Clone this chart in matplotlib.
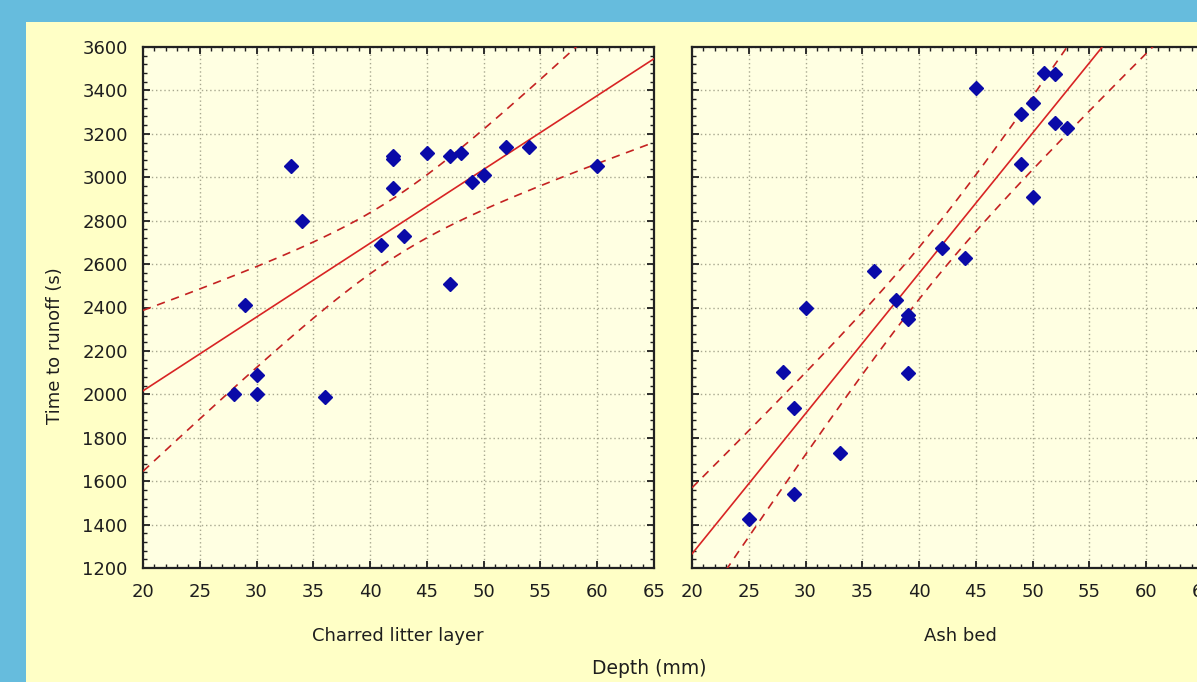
import numpy as np
import matplotlib
matplotlib.use("Agg")
import matplotlib.pyplot as plt
from matplotlib.patches import Rectangle
from matplotlib.ticker import MultipleLocator

# ---- data ----
litter_depth = [28, 29, 30, 30, 33, 34, 36, 41, 42, 42, 42, 43, 45, 47, 47, 48, 49, 50, 52, 54, 60]
litter_time = [2000, 2410, 2090, 2000, 3050, 2800, 1990, 2690, 3100, 3085, 2950, 2730,
               3110, 3100, 2510, 3110, 2980, 3010, 3140, 3140, 3050]

ash_depth = [25, 28, 29, 29, 30, 33, 36, 38, 39, 39, 39, 42, 44, 45, 49, 49, 50, 50, 51, 52, 52, 53]
ash_time = [1425, 2105, 1935, 1540, 2400, 1730, 2570, 2435, 2365, 2345, 2100, 2675, 2630,
            3410, 3290, 3060, 3340, 2910, 3480, 3475, 3250, 3225]

panel_titles = ["Charred litter layer", "Ash bed"]
y_label = "Time to runoff (s)"
x_label = "Depth (mm)"
x_ticks = [20, 25, 30, 35, 40, 45, 50, 55, 60, 65]
y_ticks = [1200, 1400, 1600, 1800, 2000, 2200, 2400, 2600, 2800, 3000, 3200, 3400, 3600]

# two-sided 95% Student t critical values by degrees of freedom
T95 = {18: 2.101, 19: 2.093, 20: 2.086, 21: 2.080}

plt.rcParams["font.family"] = ["DejaVu Sans"]

W, H = 1197, 682
fig = plt.figure(figsize=(W / 100, H / 100), dpi=100)
fig.patch.set_facecolor("#66BCDD")
fig.patches.append(Rectangle((26 / W, 0), 1, (H - 22) / H, transform=fig.transFigure,
                             facecolor="#FFFFC6", edgecolor="none", zorder=-5))

TXT = "#1E1E1E"

def panel(ax, xs, ys):
    xs = np.asarray(xs, float)
    ys = np.asarray(ys, float)
    ax.set_facecolor("#FFFFE2")
    ax.set_xlim(20, 65)
    ax.set_ylim(1200, 3600)
    ax.set_xticks(x_ticks)
    ax.set_yticks(y_ticks)
    ax.xaxis.set_minor_locator(MultipleLocator(1))
    ax.yaxis.set_minor_locator(MultipleLocator(40))
    ax.grid(True, which="major", color="#A8A890", linestyle=(0, (1, 2)), linewidth=1.0)
    ax.tick_params(which="both", direction="in", top=True, right=True, colors=TXT,
                   labelsize=13)
    ax.tick_params(which="major", length=5, width=1.3)
    ax.tick_params(which="minor", length=3, width=1.0)
    ax.tick_params(axis="y", pad=11)
    ax.tick_params(axis="x", pad=11)
    for s in ax.spines.values():
        s.set_linewidth(1.6)
        s.set_color("#222222")
    # regression and 95% confidence band
    n = len(xs)
    b, a = np.polyfit(xs, ys, 1)
    resid = ys - (a + b * xs)
    s = np.sqrt(np.sum(resid ** 2) / (n - 2))
    sxx = np.sum((xs - xs.mean()) ** 2)
    xx = np.linspace(20, 65, 300)
    yy = a + b * xx
    hw = T95[n - 2] * s * np.sqrt(1 / n + (xx - xs.mean()) ** 2 / sxx)
    ax.plot(xx, yy, color="#D82424", lw=1.2, zorder=3)
    ax.plot(xx, yy + hw, color="#C42222", lw=1.2, ls=(0, (5, 4)), zorder=3)
    ax.plot(xx, yy - hw, color="#C42222", lw=1.2, ls=(0, (5, 4)), zorder=3)
    ax.plot(xs, ys, linestyle="none", marker="D", markersize=7, color="#0A0AA8",
            markeredgecolor="#0A0AA8", zorder=4)

ax1 = fig.add_axes([143 / W, 114 / H, 511 / W, 521 / H])
ax2 = fig.add_axes([692 / W, 114 / H, 511 / W, 521 / H])
panel(ax1, litter_depth, litter_time)
panel(ax2, ash_depth, ash_time)
ax2.set_yticklabels([])

fig.text(55 / W, (H - 346) / H, y_label, rotation=90, ha="center", va="center",
         fontsize=13, color=TXT)
fig.text(398 / W, (H - 636) / H, panel_titles[0], ha="center", va="center",
         fontsize=13, color=TXT)
fig.text(960 / W, (H - 636) / H, panel_titles[1], ha="center", va="center",
         fontsize=13, color=TXT)
fig.text(649 / W, (H - 668) / H, x_label, ha="center", va="center",
         fontsize=13.5, color=TXT)

fig.savefig("out.png", dpi=100, facecolor=fig.get_facecolor())
